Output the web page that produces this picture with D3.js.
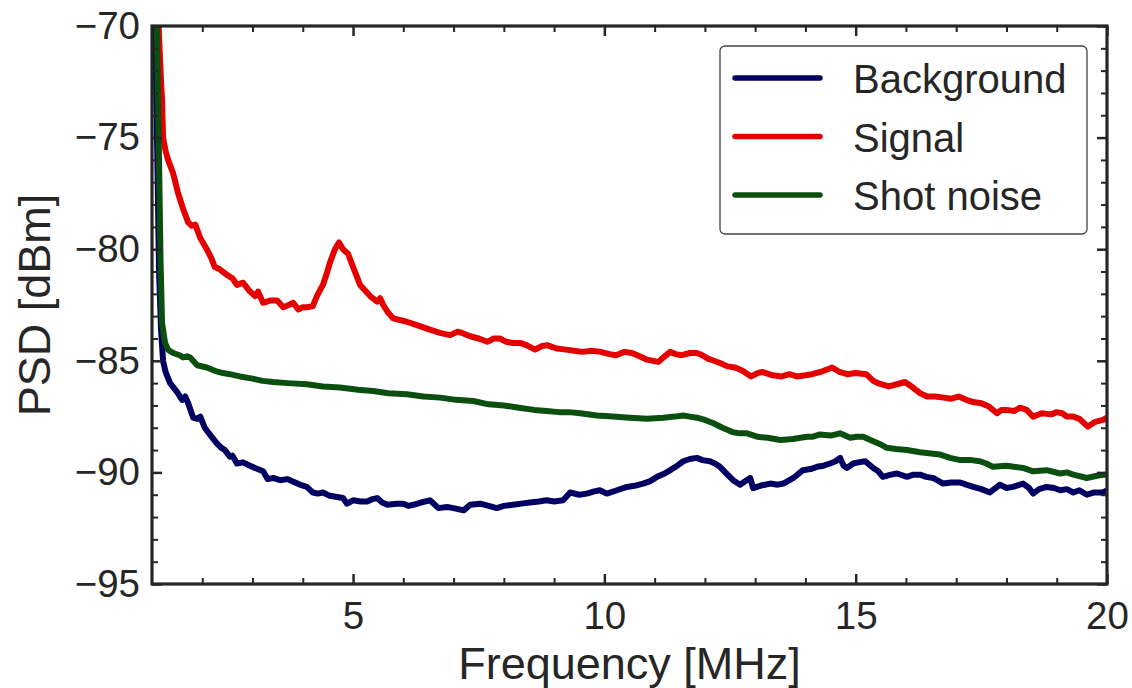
<!DOCTYPE html>
<html><head><meta charset="utf-8">
<script src="https://cdn.jsdelivr.net/npm/d3@7"></script>
<style>body{margin:0;background:#fff}svg{display:block}text{font-family:"Liberation Sans",Arial,Helvetica,sans-serif;fill:#262626}</style>
</head><body>
<svg id="c" width="1132" height="688"></svg>
<script>
const xTicks=[5,10,15,20];
const yTicks=[-95,-90,-85,-80,-75,-70];
const seriesNames=["Background","Signal","Shot noise"];
const seriesColors=["#000062","#e50000","#0b4f10"];

const bgFreq=[1.05,1.1,1.14,1.18,1.22,1.27,1.36,1.5,1.6,1.66,1.72,1.82,1.9,1.96,2.05,2.15,2.29,2.38,2.45,2.55,2.6,2.69,2.81,2.95,3.05,3.21,3.3,3.41,3.55,3.69,3.85,3.94,4.08,4.2,4.3,4.4,4.54,4.68,4.8,4.88,5.0,5.15,5.28,5.38,5.48,5.58,5.68,5.87,6.0,6.1,6.2,6.35,6.53,6.7,6.87,7.0,7.2,7.33,7.53,7.7,7.86,8.0,8.18,8.35,8.52,8.7,8.85,9.0,9.18,9.32,9.5,9.65,9.8,9.91,10.05,10.25,10.45,10.6,10.77,10.9,11.05,11.2,11.31,11.45,11.57,11.7,11.84,11.95,12.1,12.2,12.3,12.45,12.56,12.7,12.8,12.9,12.96,13.1,13.3,13.45,13.56,13.76,13.95,14.1,14.23,14.36,14.49,14.6,14.69,14.76,14.83,14.95,15.05,15.19,15.35,15.45,15.54,15.7,15.82,16.02,16.15,16.28,16.4,16.54,16.74,16.9,17.08,17.2,17.34,17.5,17.67,17.87,18.0,18.13,18.33,18.45,18.53,18.65,18.8,18.95,19.07,19.2,19.33,19.45,19.6,19.75,19.92,20.0];
const bgPsd=[-68,-75,-81,-83.6,-85.0,-85.5,-86.0,-86.4,-86.75,-86.6,-86.9,-87.55,-87.6,-87.5,-88.0,-88.3,-88.7,-88.9,-89.0,-89.3,-89.25,-89.6,-89.55,-89.7,-89.8,-89.95,-90.3,-90.25,-90.35,-90.3,-90.45,-90.55,-90.65,-90.9,-90.95,-90.9,-91.05,-91.1,-91.15,-91.4,-91.25,-91.3,-91.3,-91.2,-91.15,-91.35,-91.45,-91.4,-91.4,-91.5,-91.45,-91.35,-91.25,-91.6,-91.55,-91.6,-91.7,-91.45,-91.4,-91.5,-91.6,-91.5,-91.45,-91.4,-91.35,-91.3,-91.25,-91.3,-91.25,-90.9,-91.0,-90.95,-90.85,-90.8,-90.95,-90.8,-90.65,-90.6,-90.5,-90.4,-90.2,-90.05,-89.9,-89.7,-89.5,-89.4,-89.35,-89.45,-89.5,-89.6,-89.75,-90.1,-90.35,-90.55,-90.4,-90.25,-90.7,-90.6,-90.5,-90.55,-90.5,-90.25,-89.9,-89.85,-89.75,-89.7,-89.6,-89.5,-89.35,-89.7,-89.8,-89.6,-89.55,-89.5,-89.8,-89.95,-90.2,-90.1,-90.05,-90.2,-90.1,-90.1,-90.2,-90.25,-90.5,-90.45,-90.45,-90.55,-90.65,-90.75,-90.9,-90.55,-90.7,-90.65,-90.5,-90.7,-90.95,-90.75,-90.65,-90.7,-90.8,-90.75,-90.9,-90.8,-91.0,-90.9,-90.9,-90.8];

const sigFreq=[1.04,1.1,1.14,1.18,1.2,1.22,1.27,1.32,1.42,1.52,1.62,1.72,1.79,1.86,1.96,2.09,2.18,2.25,2.35,2.49,2.6,2.69,2.81,2.95,3.05,3.11,3.21,3.35,3.49,3.61,3.72,3.81,3.91,4.0,4.08,4.2,4.28,4.4,4.48,4.54,4.64,4.72,4.8,4.9,5.0,5.14,5.34,5.48,5.54,5.6,5.7,5.8,6.07,6.27,6.53,6.73,6.93,7.08,7.17,7.33,7.5,7.67,7.8,7.92,8.05,8.18,8.32,8.45,8.62,8.75,8.86,9.05,9.24,9.4,9.55,9.75,9.93,10.1,10.23,10.4,10.55,10.7,10.85,11.07,11.2,11.31,11.42,11.54,11.7,11.84,11.95,12.06,12.18,12.3,12.45,12.6,12.75,12.92,13.05,13.14,13.35,13.53,13.68,13.83,14.0,14.13,14.3,14.53,14.68,14.83,15.0,15.21,15.35,15.44,15.66,15.82,15.98,16.14,16.28,16.42,16.58,16.75,16.9,17.05,17.2,17.34,17.5,17.65,17.81,17.9,18.0,18.15,18.27,18.4,18.53,18.7,18.89,19.0,19.11,19.2,19.33,19.45,19.62,19.75,19.92,20.0];
const sigPsd=[-64,-68,-70.5,-72.5,-73.3,-75.0,-75.6,-76.0,-76.6,-77.5,-78.2,-78.8,-78.95,-78.9,-79.5,-80.0,-80.4,-80.8,-80.9,-81.15,-81.3,-81.6,-81.5,-81.9,-82.1,-81.9,-82.4,-82.3,-82.3,-82.6,-82.5,-82.4,-82.7,-82.6,-82.6,-82.55,-82.1,-81.6,-81.07,-80.6,-80.0,-79.7,-80.0,-80.2,-80.8,-81.6,-82.1,-82.35,-82.2,-82.5,-82.85,-83.1,-83.25,-83.4,-83.6,-83.75,-83.85,-83.7,-83.75,-83.9,-84.0,-84.15,-84.0,-84.0,-84.15,-84.2,-84.2,-84.3,-84.5,-84.35,-84.3,-84.45,-84.5,-84.55,-84.6,-84.55,-84.6,-84.7,-84.75,-84.6,-84.65,-84.8,-84.95,-85.05,-84.8,-84.6,-84.7,-84.75,-84.65,-84.65,-84.75,-84.9,-85.0,-85.1,-85.25,-85.3,-85.45,-85.7,-85.55,-85.5,-85.65,-85.7,-85.6,-85.7,-85.65,-85.6,-85.5,-85.3,-85.5,-85.6,-85.55,-85.6,-85.9,-86.0,-86.15,-86.05,-85.95,-86.2,-86.45,-86.6,-86.6,-86.65,-86.7,-86.6,-86.75,-86.85,-86.9,-87.05,-87.35,-87.2,-87.2,-87.25,-87.1,-87.2,-87.5,-87.35,-87.4,-87.3,-87.35,-87.5,-87.5,-87.6,-87.95,-87.75,-87.65,-87.55];

const shotFreq=[1.04,1.1,1.14,1.17,1.2,1.26,1.32,1.42,1.55,1.62,1.7,1.76,1.9,2.09,2.25,2.41,2.55,2.75,3.0,3.2,3.41,3.7,4.08,4.4,4.74,5.1,5.4,5.7,6.07,6.4,6.73,7.05,7.39,7.7,8.0,8.3,8.6,8.85,9.1,9.3,9.52,9.85,10.17,10.5,10.85,11.17,11.4,11.57,11.7,11.84,12.0,12.17,12.35,12.56,12.7,12.84,13.04,13.25,13.5,13.75,14.03,14.15,14.29,14.5,14.69,14.89,15.02,15.15,15.35,15.5,15.62,15.8,16.02,16.28,16.5,16.68,16.88,17.08,17.3,17.47,17.6,17.73,18.0,18.15,18.33,18.53,18.8,19.07,19.2,19.33,19.6,19.8,19.96,20.0];
const shotPsd=[-66,-70.5,-76,-80.5,-83.3,-84.2,-84.5,-84.65,-84.75,-84.85,-84.8,-84.85,-85.2,-85.3,-85.45,-85.55,-85.6,-85.7,-85.8,-85.9,-85.95,-86.0,-86.05,-86.15,-86.2,-86.3,-86.35,-86.45,-86.5,-86.6,-86.65,-86.75,-86.8,-86.95,-87.0,-87.1,-87.2,-87.25,-87.3,-87.3,-87.35,-87.45,-87.5,-87.55,-87.6,-87.55,-87.5,-87.45,-87.5,-87.55,-87.65,-87.8,-88.0,-88.2,-88.25,-88.25,-88.4,-88.45,-88.55,-88.5,-88.4,-88.4,-88.3,-88.35,-88.25,-88.45,-88.4,-88.4,-88.6,-88.75,-88.9,-88.95,-89.0,-89.1,-89.15,-89.2,-89.35,-89.45,-89.45,-89.5,-89.6,-89.75,-89.7,-89.75,-89.8,-89.95,-89.9,-90.05,-90.0,-90.1,-90.25,-90.15,-90.1,-90.1];

const svg=d3.select("#c");
const L=152,R=1107,T=26,B=584;
const x=d3.scaleLinear().domain([1,20]).range([L,R]);
const y=d3.scaleLinear().domain([-95,-70]).range([B,T]);
const ink="#262626";

svg.append("defs").append("clipPath").attr("id","clip").append("rect")
  .attr("x",L).attr("y",T).attr("width",R-L).attr("height",B-T);

const series=[[bgFreq,bgPsd],[sigFreq,sigPsd],[shotFreq,shotPsd]];
const line=d3.line().x(d=>x(d[0])).y(d=>y(d[1]));
const g=svg.append("g").attr("clip-path","url(#clip)");
series.forEach((s,i)=>{
  const pts=s[0].map((f,j)=>[f,s[1][j]]);
  g.append("path").datum(pts).attr("d",line).attr("fill","none")
   .attr("stroke",seriesColors[i]).attr("stroke-width",6)
   .attr("stroke-linejoin","round").attr("stroke-linecap","round");
});

const xMinor=d3.range(2,20,1).filter(v=>!xTicks.includes(v));
const yMinor=d3.range(-94,-70,1).filter(v=>!yTicks.includes(v));
function ax(axis,tr){const a=svg.append("g").attr("transform",tr).call(axis);a.select(".domain").remove();a.selectAll("line").attr("stroke",ink);return a;}
const fmt=d=>String(d).replace("-","\u2212");
let a=ax(d3.axisBottom(x).tickValues(xTicks).tickSize(-10).tickPadding(18).tickFormat(fmt),`translate(0,${B})`);
a.selectAll("line").attr("stroke-width",2.5);
a.selectAll("text").attr("font-size",38.5).attr("fill",ink);
a=ax(d3.axisBottom(x).tickValues(xMinor).tickSize(-6).tickFormat(""),`translate(0,${B})`);a.selectAll("line").attr("stroke-width",2);
a=ax(d3.axisTop(x).tickValues(xTicks).tickSize(-10).tickFormat(""),`translate(0,${T})`);a.selectAll("line").attr("stroke-width",2.5);
a=ax(d3.axisTop(x).tickValues(xMinor).tickSize(-6).tickFormat(""),`translate(0,${T})`);a.selectAll("line").attr("stroke-width",2);
a=ax(d3.axisLeft(y).tickValues(yTicks).tickSize(-10).tickPadding(12).tickFormat(fmt),`translate(${L},0)`);
a.selectAll("line").attr("stroke-width",2.5);
a.selectAll("text").attr("font-size",38.5).attr("fill",ink);
a=ax(d3.axisLeft(y).tickValues(yMinor).tickSize(-6).tickFormat(""),`translate(${L},0)`);a.selectAll("line").attr("stroke-width",2);
a=ax(d3.axisRight(y).tickValues(yTicks).tickSize(-10).tickFormat(""),`translate(${R},0)`);a.selectAll("line").attr("stroke-width",2.5);
a=ax(d3.axisRight(y).tickValues(yMinor).tickSize(-6).tickFormat(""),`translate(${R},0)`);a.selectAll("line").attr("stroke-width",2);

svg.append("rect").attr("x",L).attr("y",T).attr("width",R-L).attr("height",B-T)
  .attr("fill","none").attr("stroke",ink).attr("stroke-width",3.2);

svg.append("text").attr("x",(L+R)/2).attr("y",679).attr("text-anchor","middle")
  .attr("font-size",45).text("Frequency [MHz]");
svg.append("text").attr("transform",`translate(50,${(T+B)/2}) rotate(-90)`).attr("text-anchor","middle")
  .attr("font-size",45).text("PSD [dBm]");

const lg=svg.append("g");
lg.append("rect").attr("x",720).attr("y",46).attr("width",367).attr("height",188).attr("rx",5)
  .attr("fill","#fff").attr("fill-opacity",0.85).attr("stroke","#444").attr("stroke-width",1.3);
seriesNames.forEach((n,i)=>{
  const yy=78+i*58.5;
  lg.append("line").attr("x1",735).attr("x2",820).attr("y1",yy).attr("y2",yy)
    .attr("stroke",seriesColors[i]).attr("stroke-width",5.5).attr("stroke-linecap","round");
  lg.append("text").attr("x",853).attr("y",yy+15).attr("font-size",40).text(n);
});
</script>
</body></html>
